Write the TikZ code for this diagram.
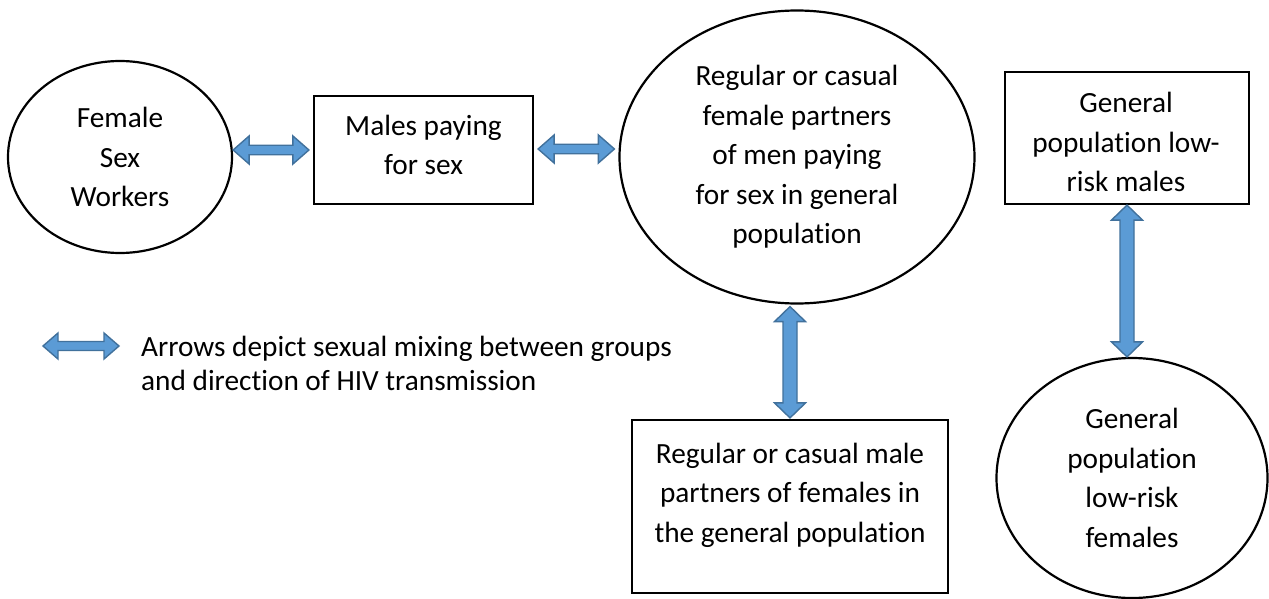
\documentclass[tikz,border=0pt]{standalone}
\usepackage{fontspec}
\setmainfont{Carlito}[Ligatures=NoCommon]
\usetikzlibrary{shapes.geometric,calc}
\definecolor{arrfill}{HTML}{5B9BD5}
\definecolor{arrdraw}{HTML}{41719C}
\tikzset{
  shapeline/.style={draw=black, line width=2.2pt, inner sep=0pt},
  ellnode/.style={shapeline, ellipse, align=center, font=\fontsize{29.3}{39.5}\selectfont},
  boxnode/.style={shapeline, rectangle},
  txtnode/.style={align=center, inner sep=0pt, font=\fontsize{29.3}{39.5}\selectfont},
  blockarr/.style={fill=arrfill, draw=arrdraw, line width=1.4pt, line join=miter}
}
% horizontal double block arrow: #1 left tip, #2 right tip, #3 shaft half width, #4 head half width, #5 head length
\newcommand\hdblarrow[5]{%
  \filldraw[blockarr] (#1) -- ($(#1)+(#5,-#4)$) -- ($(#1)+(#5,-#3)$) -- ($(#2)+(-#5,-#3)$) -- ($(#2)+(-#5,-#4)$) -- (#2) -- ($(#2)+(-#5,#4)$) -- ($(#2)+(-#5,#3)$) -- ($(#1)+(#5,#3)$) -- ($(#1)+(#5,#4)$) -- cycle;}
% vertical double block arrow: #1 top tip, #2 bottom tip
\newcommand\vdblarrow[5]{%
  \filldraw[blockarr] (#1) -- ($(#1)+(#4,#5)$) -- ($(#1)+(#3,#5)$) -- ($(#2)+(#3,-#5)$) -- ($(#2)+(#4,-#5)$) -- (#2) -- ($(#2)+(-#4,-#5)$) -- ($(#2)+(-#3,-#5)$) -- ($(#1)+(-#3,#5)$) -- ($(#1)+(-#4,#5)$) -- cycle;}
\begin{document}
\begin{tikzpicture}[x=1pt,y=-1pt]
\useasboundingbox[fill=white] (0,0) rectangle (1269,599);

% shapes
\node[ellnode, minimum width=224pt, minimum height=192pt] (fsw) at (120,157) {Female\\Sex\\Workers};
\node[boxnode, minimum width=219pt, minimum height=108pt] (males) at (423.5,150) {};
\node[txtnode] (malestxt) at (423.5,145) {Males paying\\for sex};
\node[ellnode, minimum width=355pt, minimum height=293pt] (big) at (797,157) {Regular or casual\\female partners\\of men paying\\for sex in general\\population};
\node[boxnode, minimum width=244pt, minimum height=132pt] (topr) at (1127,138) {};
\node[txtnode] (toprtxt) at (1126,142) {General\\population low-\\risk males};
\node[ellnode, minimum width=271pt, minimum height=240pt] (rell) at (1132,478) {General\\population\\low-risk\\females};
\node[boxnode, minimum width=316pt, minimum height=173pt] (bot) at (790,506.5) {};
\node[txtnode] (bottxt) at (790,495) {Regular or casual male\\partners of females in\\the general population};

% connectors
\coordinate (a1l) at (fsw.east |- males.west);
\coordinate (a1r) at ($(males.west)+(-4,0)$);
\hdblarrow{a1l}{a1r}{4.75}{14}{16}
\coordinate (a2l) at ($(males.east)+(4,-1)$);
\coordinate (a2r) at ($(big.west |- males.east)+(-4,-1)$);
\hdblarrow{a2l}{a2r}{4.75}{14}{16}
\coordinate (a3t) at ($(bot.north |- big.south)+(0,2)$);
\coordinate (a3b) at ($(bot.north)+(0,-1)$);
\vdblarrow{a3t}{a3b}{7}{15.5}{15}
\coordinate (a4t) at (topr.south);
\coordinate (a4b) at (topr.south |- rell.north);
\vdblarrow{a4t}{a4b}{7}{15.5}{15}

% legend
\coordinate (lgl) at (43,346);
\coordinate (lgr) at (119,346);
\hdblarrow{lgl}{lgr}{4.5}{13}{15}
\node[anchor=west, align=left, inner sep=0pt, font=\fontsize{29.3}{34}\selectfont] (legend) at (141,363) {Arrows depict sexual mixing between groups\\and direction of HIV transmission};
\end{tikzpicture}
\end{document}
